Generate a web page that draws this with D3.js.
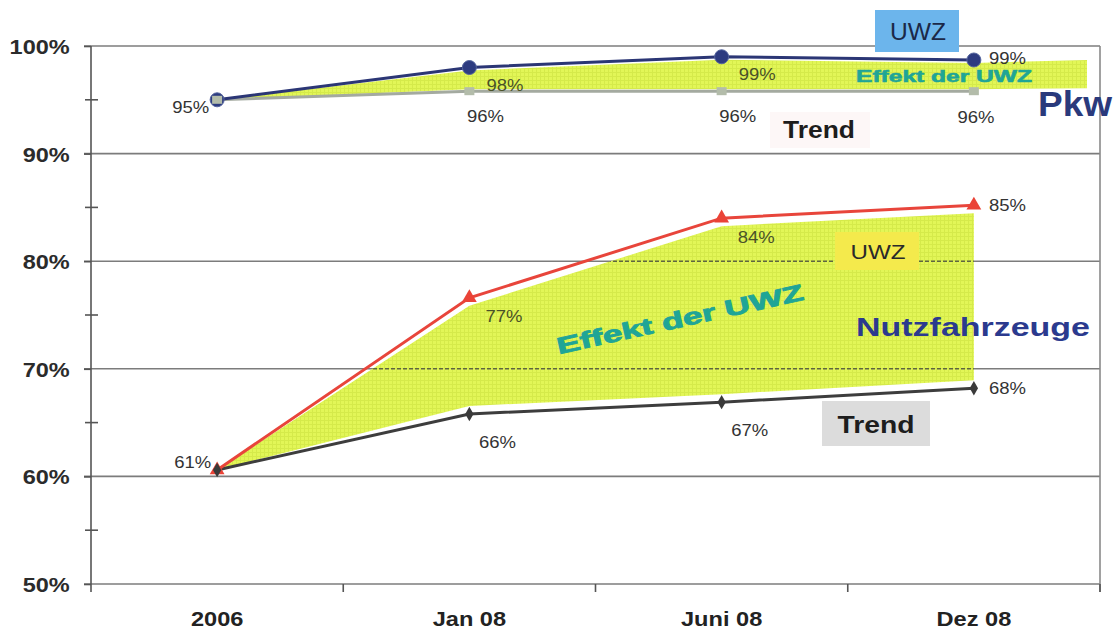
<!DOCTYPE html>
<html>
<head>
<meta charset="utf-8">
<script src="https://cdn.jsdelivr.net/npm/d3@7"></script>
<style>
  html, body { margin: 0; padding: 0; background: #fff; }
  svg { display: block; font-family: "Liberation Sans", Arial, sans-serif; }
</style>
</head>
<body>
<svg id="chart" width="1118" height="634"></svg>
<script>
// Zeitpunkte
const categories = ["2006", "Jan 08", "Juni 08", "Dez 08"];
// Anteil Pkw mit Plakette (%)
const pkw = [95, 98, 99, 98.7];
const pkwTrend = [95, 95.8, 95.8, 95.8];
// Anteil Nutzfahrzeuge mit Plakette (%)
const nfz = [60.6, 76.6, 84.0, 85.2];
const nfzTrend = [60.6, 65.8, 66.9, 68.2];
// Achsen
const yTicks = [50, 60, 70, 80, 90, 100];
const yMinorTicks = [55, 65, 75, 85, 95];

const svg = d3.select("#chart");
const plotLeft = 91, plotRight = 1100, plotTop = 46, plotBottom = 584;

const x = d3.scaleBand().domain(categories).range([plotLeft, plotRight]).padding(0);
const cx = c => x(c) + x.bandwidth() / 2;
const y = d3.scaleLinear().domain([50, 100]).range([plotBottom, plotTop]);
const pct = d3.format(".0f");

// Schraffierte Füllung für den Effekt der Umweltzone
const defs = svg.append("defs");
const pat = defs.append("pattern").attr("id", "hatch")
  .attr("width", 4).attr("height", 4).attr("patternUnits", "userSpaceOnUse");
pat.append("rect").attr("width", 4).attr("height", 4).attr("fill", "#e2f657");
pat.append("path").attr("d", "M0.5 0V4M0 0.5H4").attr("stroke", "#d5ea4a").attr("stroke-width", 1);

// Gitterlinien
svg.append("g").selectAll("line").data(yTicks).join("line")
  .attr("x1", plotLeft - 7).attr("x2", plotRight)
  .attr("y1", d => y(d)).attr("y2", d => y(d))
  .attr("stroke", "#7c7c7c").attr("stroke-width", 1.6);

// Rahmen rechts
svg.append("line").attr("x1", plotRight).attr("x2", plotRight)
  .attr("y1", plotTop).attr("y2", plotBottom + 8)
  .attr("stroke", "#8a8a8a").attr("stroke-width", 1.6);

// Effektflächen
const gap = 8;
const nfzArea = categories.map((c, i) => ({
  x: cx(c),
  y1: y(nfz[i]) + (i ? gap : 0),
  y0: y(nfzTrend[i]) - (i ? gap : 0)
}));
const pkwExt = plotRight - 13;
const pkwArea = categories.map((c, i) => ({
  x: cx(c),
  y1: y(pkw[i]) + (i ? 3 : 0),
  y0: y(pkwTrend[i]) - (i ? 2 : 0)
}));
pkwArea.push({ x: pkwExt, y1: pkwArea[3].y1 - 3, y0: pkwArea[3].y0 - 1 });

const area = d3.area().x(d => d.x).y0(d => d.y0).y1(d => d.y1);
const areaG = svg.append("g");
areaG.append("path").attr("d", area(nfzArea)).attr("fill", "url(#hatch)");
areaG.append("path").attr("d", area(pkwArea)).attr("fill", "url(#hatch)");

// Gitterlinien gestrichelt innerhalb der Flächen
const clip = defs.append("clipPath").attr("id", "effClip");
clip.append("path").attr("d", area(nfzArea));
clip.append("path").attr("d", area(pkwArea));
svg.append("g").attr("clip-path", "url(#effClip)")
  .selectAll("line").data(yTicks).join("line")
  .attr("x1", plotLeft).attr("x2", plotRight)
  .attr("y1", d => y(d)).attr("y2", d => y(d))
  .attr("stroke", "#5f6640").attr("stroke-width", 1.6)
  .attr("stroke-dasharray", "4,2");

// Y-Achse
const yAxis = svg.append("g").attr("transform", `translate(${plotLeft},0)`)
  .call(d3.axisLeft(y).tickValues(yTicks).tickFormat(d => d + "%").tickSize(7).tickPadding(12));
yAxis.select(".domain").attr("d", `M0,${plotTop}V${plotBottom + 8}`)
  .attr("stroke", "#555").attr("stroke-width", 1.6);
yAxis.selectAll(".tick line").attr("stroke", "#555").attr("stroke-width", 1.6);
yAxis.selectAll("text").attr("font-size", 21).attr("font-weight", "bold")
  .attr("fill", "#2b2b2b").attr("dy", "0.36em").attr("transform", "scale(1.12,1)");
svg.append("g").selectAll("line").data(yMinorTicks).join("line")
  .attr("x1", plotLeft - 6).attr("x2", plotLeft + 7)
  .attr("y1", d => y(d)).attr("y2", d => y(d))
  .attr("stroke", "#555").attr("stroke-width", 1.6);

// X-Achse
const xAxis = svg.append("g").attr("transform", `translate(0,${plotBottom})`)
  .call(d3.axisBottom(x).tickSize(0).tickPadding(28));
xAxis.select(".domain").remove();
xAxis.selectAll("text").attr("font-size", 20).attr("font-weight", "bold").attr("fill", "#222")
  .attr("transform", "scale(1.18,1)");
svg.append("g").selectAll("line").data(categories.slice(1).map(c => x(c)).concat([plotRight]))
  .join("line")
  .attr("x1", d => d).attr("x2", d => d)
  .attr("y1", plotBottom).attr("y2", plotBottom + 8)
  .attr("stroke", "#555").attr("stroke-width", 1.6);

// Linien
const line = (vals) => d3.line().x((d, i) => cx(categories[i])).y(d => y(d))(vals);
svg.append("path").attr("d", line(pkwTrend)).attr("fill", "none")
  .attr("stroke", "#a4aaa0").attr("stroke-width", 3);
svg.append("path").attr("d", line(pkw)).attr("fill", "none")
  .attr("stroke", "#2b3675").attr("stroke-width", 3);
svg.append("path").attr("d", line(nfzTrend)).attr("fill", "none")
  .attr("stroke", "#3d3d3d").attr("stroke-width", 3);
svg.append("path").attr("d", line(nfz)).attr("fill", "none")
  .attr("stroke", "#e8453b").attr("stroke-width", 3);

// Marker
svg.append("g").selectAll("circle").data(pkw).join("circle")
  .attr("cx", (d, i) => cx(categories[i])).attr("cy", d => y(d)).attr("r", 7)
  .attr("fill", "#2d3b80").attr("stroke", "#55659e").attr("stroke-width", 1);
svg.append("g").selectAll("rect").data(pkwTrend).join("rect")
  .attr("x", (d, i) => cx(categories[i]) - 5).attr("y", d => y(d) - 4)
  .attr("width", 10).attr("height", 8).attr("fill", "#b3bcaa");
svg.append("g").selectAll("path").data(nfz).join("path")
  .attr("transform", (d, i) => `translate(${cx(categories[i])},${y(d)})`)
  .attr("d", d3.symbol(d3.symbolTriangle, 95)).attr("fill", "#ea4337");
svg.append("g").selectAll("path").data(nfzTrend).join("path")
  .attr("transform", (d, i) => `translate(${cx(categories[i])},${y(d)})`)
  .attr("d", d3.symbol(d3.symbolDiamond, 60)).attr("fill", "#3a3a3a");

// Werte-Beschriftungen
function valueLabels(vals, opts) {
  const last = vals.length - 1;
  const off = i => i === 0 ? opts.first : i === last ? opts.last : opts.mid;
  svg.append("g").selectAll("text").data(vals.map((v, i) => ({ v, i })))
    .join("text")
    .filter(d => !(opts.skipFirst && d.i === 0))
    .attr("x", d => cx(categories[d.i]) + off(d.i)[0])
    .attr("y", d => y(d.v) + off(d.i)[1])
    .attr("text-anchor", d => d.i === 0 ? "end" : d.i === last ? opts.lastAnchor : opts.midAnchor)
    .attr("dy", "0.35em")
    .attr("font-size", 16)
    .attr("textLength", 37).attr("lengthAdjust", "spacingAndGlyphs")
    .attr("fill", d => (d.i > 0 && d.i < last) ? opts.midColor : "#333")
    .text(d => pct(d.v) + "%");
}
valueLabels(pkw, { first: [-8, 8], mid: [17, 18], last: [15, -2], midAnchor: "start", lastAnchor: "start", midColor: "#4a5228" });
valueLabels(pkwTrend, { skipFirst: true, first: [0, 0], mid: [16, 25], last: [2, 26], midAnchor: "middle", lastAnchor: "middle", midColor: "#333" });
valueLabels(nfz, { first: [-6, -8], mid: [16, 19], last: [15, 0], midAnchor: "start", lastAnchor: "start", midColor: "#4a5228" });
valueLabels(nfzTrend, { skipFirst: true, first: [0, 0], mid: [28, 28], last: [15, 0], midAnchor: "middle", lastAnchor: "start", midColor: "#333" });

// Anmerkungen Pkw
svg.append("rect").attr("x", 875).attr("y", 10).attr("width", 84).attr("height", 42).attr("fill", "#6cb5ec");
svg.append("text").attr("x", 918).attr("y", 40).attr("text-anchor", "middle")
  .attr("font-size", 24).attr("fill", "#1b2848")
  .attr("textLength", 56).attr("lengthAdjust", "spacingAndGlyphs").text("UWZ");
svg.append("text").attr("x", 944).attr("y", 82).attr("text-anchor", "middle")
  .attr("font-size", 16).attr("font-weight", "bold").attr("fill", "#1fa596")
  .attr("stroke", "#1fa596").attr("stroke-width", 0.6)
  .attr("textLength", 176).attr("lengthAdjust", "spacingAndGlyphs").text("Effekt der UWZ");
svg.append("text").attr("x", 1038).attr("y", 116)
  .attr("font-size", 35).attr("font-weight", "bold").attr("fill", "#2a3a7c")
  .attr("textLength", 74).attr("lengthAdjust", "spacingAndGlyphs").text("Pkw");
svg.append("rect").attr("x", 770).attr("y", 112).attr("width", 100).attr("height", 36).attr("fill", "#fdf7f7");
svg.append("text").attr("x", 783).attr("y", 138)
  .attr("font-size", 23).attr("font-weight", "bold").attr("fill", "#1d1d1d")
  .attr("textLength", 72).attr("lengthAdjust", "spacingAndGlyphs").text("Trend");

// Anmerkungen Nutzfahrzeuge
svg.append("rect").attr("x", 835).attr("y", 232).attr("width", 84).attr("height", 38).attr("fill", "#f4ea4c");
svg.append("text").attr("x", 878).attr("y", 259).attr("text-anchor", "middle")
  .attr("font-size", 21).attr("fill", "#2a2a2a")
  .attr("textLength", 55).attr("lengthAdjust", "spacingAndGlyphs").text("UWZ");
svg.append("text").attr("transform", "translate(680,319) rotate(-12.5)").attr("text-anchor", "middle")
  .attr("font-size", 23).attr("font-weight", "bold").attr("fill", "#1fa596")
  .attr("stroke", "#1fa596").attr("stroke-width", 0.9)
  .attr("textLength", 252).attr("lengthAdjust", "spacingAndGlyphs").attr("dy", "0.35em")
  .text("Effekt der UWZ");
svg.append("text").attr("x", 856).attr("y", 336)
  .attr("font-size", 26).attr("font-weight", "bold").attr("fill", "#2b3a8e")
  .attr("textLength", 234).attr("lengthAdjust", "spacingAndGlyphs").text("Nutzfahrzeuge");
svg.append("rect").attr("x", 822).attr("y", 401).attr("width", 108).attr("height", 45).attr("fill", "#dcdcdc");
svg.append("text").attr("x", 876).attr("y", 433).attr("text-anchor", "middle")
  .attr("font-size", 24).attr("font-weight", "bold").attr("fill", "#1d1d1d")
  .attr("textLength", 77).attr("lengthAdjust", "spacingAndGlyphs").text("Trend");
</script>
</body>
</html>
